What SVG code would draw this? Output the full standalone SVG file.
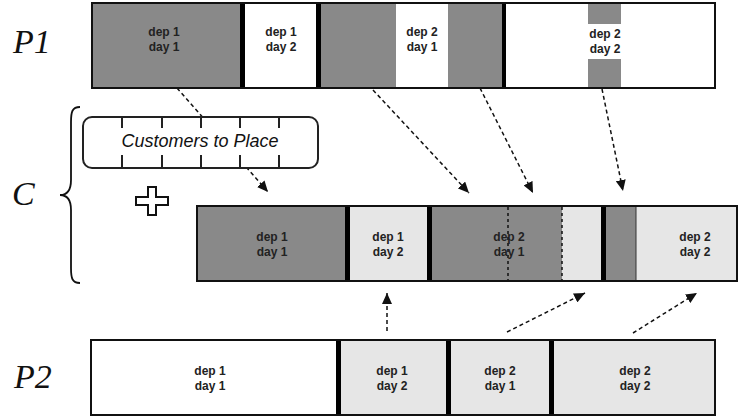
<svg xmlns="http://www.w3.org/2000/svg" width="740" height="417" viewBox="0 0 740 417">
<defs>
<marker id="ah" markerUnits="userSpaceOnUse" markerWidth="11" markerHeight="10" refX="11" refY="5" orient="auto"><path d="M0,0 L11,5 L0,10 z" fill="#111"/></marker>
<style>
.seg{font-family:"Liberation Sans",Arial,sans-serif;font-size:12px;font-weight:bold;fill:#222;text-anchor:middle}
.lab{font-family:"Liberation Serif","Times New Roman",serif;font-style:italic;font-size:34px;fill:#111}
.dk{fill:#898989}
.lt{fill:#e6e6e6}
.wh{fill:#ffffff}
.bk{fill:#000}
.frame{fill:none;stroke:#111;stroke-width:2}
.conn{fill:none;stroke:#111;stroke-width:1.5;stroke-dasharray:4 3;marker-end:url(#ah)}
</style>
</defs>
<rect width="740" height="417" fill="#fff"/>

<g id="labels">
<text class="lab" x="13" y="53">P1</text>
<text class="lab" x="12" y="205">C</text>
<text class="lab" x="14" y="388">P2</text>
</g>

<g id="brace">
<path d="M80,107 C72,107 71,112 71,122 L71,180 C71,190 67,195 60,195 C67,195 71,200 71,210 L71,268 C71,278 72,283 80,283" fill="none" stroke="#111" stroke-width="1.8"/>
</g>

<g id="connectors">
<line class="conn" x1="177" y1="88" x2="268" y2="192"/>
<line class="conn" x1="373" y1="90" x2="469" y2="193"/>
<line class="conn" x1="480" y1="88" x2="533" y2="193"/>
<line class="conn" x1="602" y1="89" x2="623" y2="191"/>
<line class="conn" x1="387" y1="331" x2="387" y2="293"/>
<line class="conn" x1="507" y1="332" x2="585" y2="293"/>
<line class="conn" x1="633" y1="333" x2="697" y2="293"/>
</g>

<g id="customers">
<rect x="83" y="117" width="235" height="51" rx="9" fill="#fff" stroke="#222" stroke-width="2"/>
<path d="M122,117v11M162,117v11M201,117v11M240,117v11M279,117v11M122,168v-13M162,168v-13M201,168v-13M240,168v-13M279,168v-13" stroke="#222" stroke-width="2"/>
<text x="200" y="147" font-family="'Liberation Sans',Arial,sans-serif" font-style="italic" font-size="18" fill="#111" text-anchor="middle">Customers to Place</text>
</g>

<g id="plus">
<path d="M148,187 h8 v10 h12 v8 h-12 v10 h-8 v-10 h-12 v-8 h12 z" fill="#fff" stroke="#111" stroke-width="2"/>
</g>

<g id="P1">
<rect class="wh" x="92" y="3" width="623" height="85"/>
<rect class="dk" x="92" y="3" width="148" height="85"/>
<rect class="bk" x="240" y="3" width="5" height="85"/>
<rect class="bk" x="316" y="3" width="5" height="85"/>
<rect class="dk" x="321" y="3" width="75" height="85"/>
<rect class="dk" x="448" y="3" width="54" height="85"/>
<rect class="bk" x="502" y="3" width="4" height="85"/>
<rect class="dk" x="588" y="3" width="33" height="85"/>
<rect class="wh" x="588" y="24" width="33" height="35"/>
<rect class="frame" x="92" y="3" width="623" height="85"/>
<text class="seg" x="164" y="36">dep 1</text><text class="seg" x="164" y="51">day 1</text>
<text class="seg" x="281" y="36">dep 1</text><text class="seg" x="281" y="51">day 2</text>
<text class="seg" x="422" y="36">dep 2</text><text class="seg" x="422" y="51">day 1</text>
<text class="seg" x="605" y="38">dep 2</text><text class="seg" x="605" y="53">day 2</text>
</g>

<g id="C">
<rect class="lt" x="197" y="206" width="540" height="75"/>
<rect class="dk" x="197" y="206" width="148" height="75"/>
<rect class="bk" x="345" y="206" width="5" height="75"/>
<rect class="bk" x="427" y="206" width="5" height="75"/>
<rect class="dk" x="432" y="206" width="130" height="75"/>
<rect class="bk" x="601" y="206" width="5" height="75"/>
<rect class="dk" x="606" y="206" width="30" height="75"/>
<line x1="636" y1="206" x2="636" y2="281" stroke="#333" stroke-width="1"/>
<line x1="508" y1="207" x2="508" y2="280" stroke="#111" stroke-width="1.5" stroke-dasharray="3 3"/>
<line x1="562" y1="207" x2="562" y2="280" stroke="#111" stroke-width="1.5" stroke-dasharray="3 3"/>
<rect class="frame" x="197" y="206" width="540" height="75"/>
<text class="seg" x="272" y="241">dep 1</text><text class="seg" x="272" y="256">day 1</text>
<text class="seg" x="388" y="241">dep 1</text><text class="seg" x="388" y="256">day 2</text>
<text class="seg" x="509" y="241">dep 2</text><text class="seg" x="509" y="256">day 1</text>
<text class="seg" x="695" y="241">dep 2</text><text class="seg" x="695" y="256">day 2</text>
</g>

<g id="P2">
<rect class="lt" x="91" y="340" width="624" height="75"/>
<rect class="wh" x="91" y="340" width="245" height="75"/>
<rect class="bk" x="336" y="340" width="5" height="75"/>
<rect class="bk" x="446" y="340" width="5" height="75"/>
<rect class="bk" x="549" y="340" width="5" height="75"/>
<rect class="frame" x="91" y="340" width="624" height="75"/>
<text class="seg" x="210" y="375">dep 1</text><text class="seg" x="210" y="390">day 1</text>
<text class="seg" x="392" y="375">dep 1</text><text class="seg" x="392" y="390">day 2</text>
<text class="seg" x="500" y="375">dep 2</text><text class="seg" x="500" y="390">day 1</text>
<text class="seg" x="635" y="375">dep 2</text><text class="seg" x="635" y="390">day 2</text>
</g>
</svg>
